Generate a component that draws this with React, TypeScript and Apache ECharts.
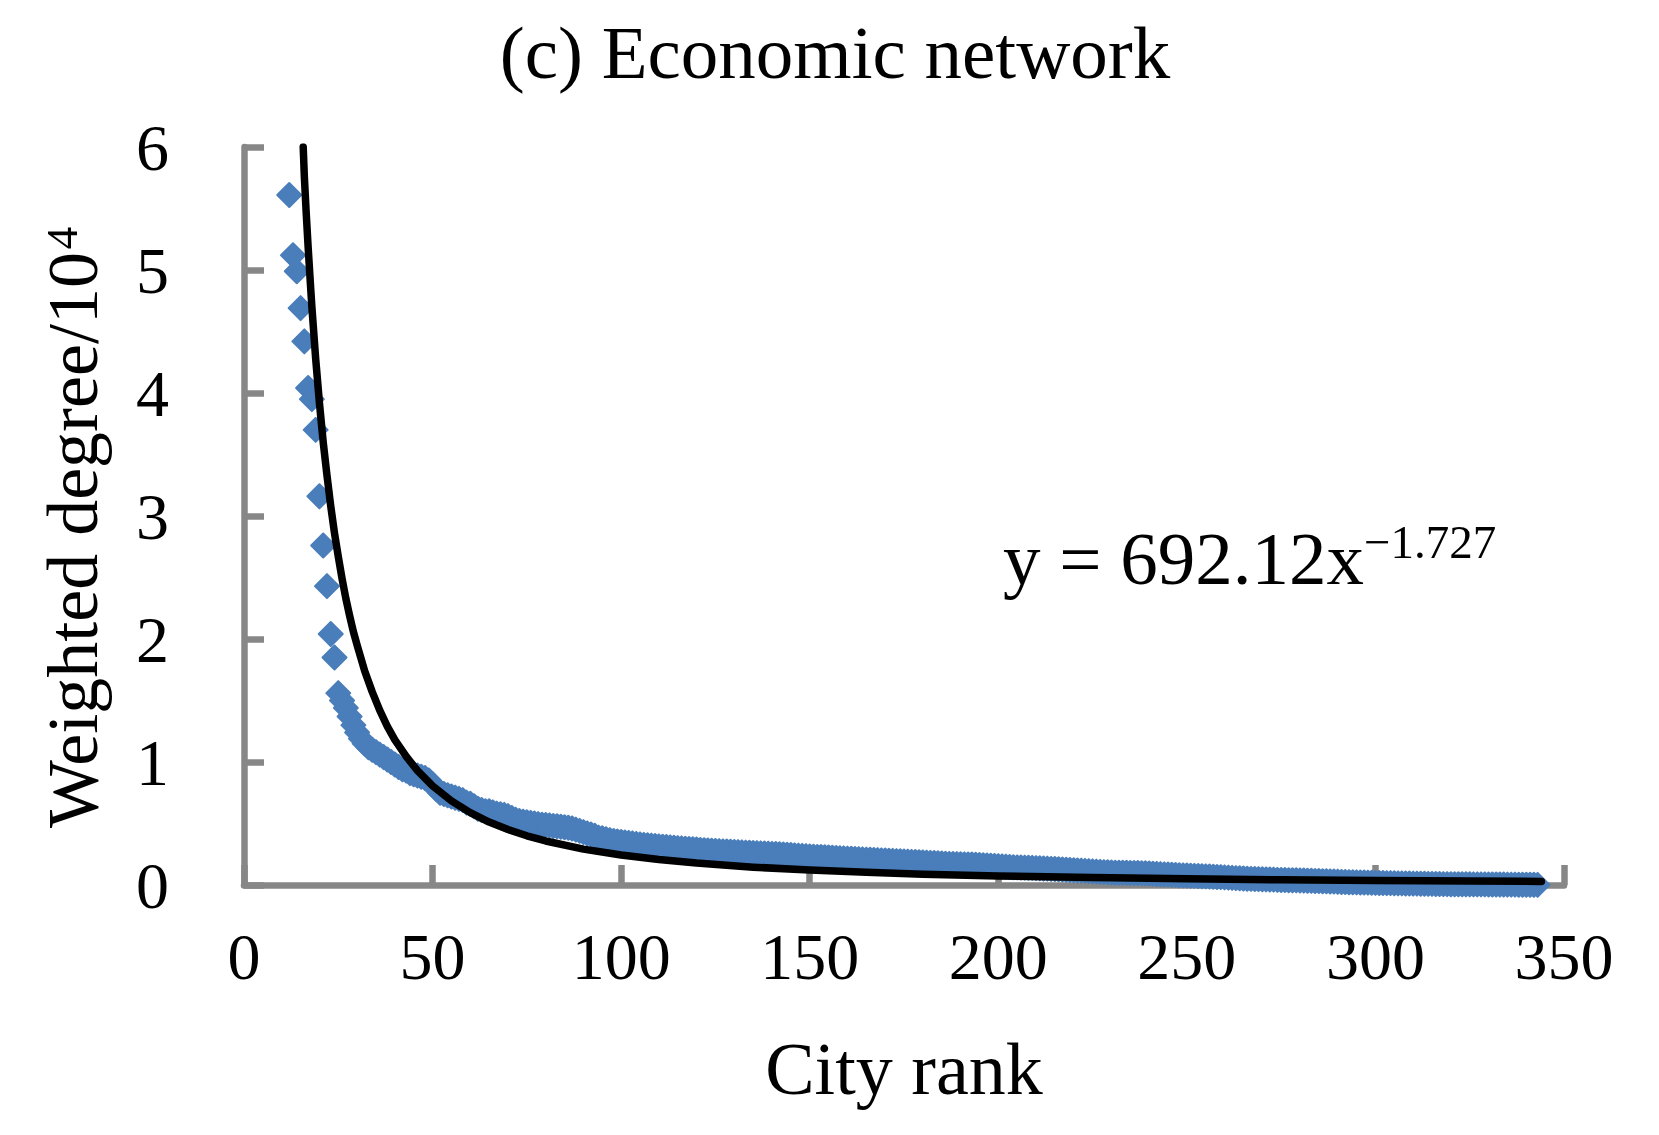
import { useEffect, useRef } from "react";
import * as echarts from "echarts";

// ---- texts ----
const titleText = "(c) Economic network";
const xAxisTitle = "City rank";
const yAxisTitle = "Weighted degree/10";
const yAxisTitleSup = "4";
const equationMain = "y = 692.12x";
const equationSup = "\u22121.727";

// ---- axes ----
const xMin = 0;
const xMax = 350;
const xInterval = 50;
const yMin = 0;
const yMax = 6;
const yInterval = 1;

// ---- scatter: weighted degree (/10^4) by city rank, starting at rank 12 ----
const firstRank = 12;
const weightedDegree = [
  5.61, 5.12, 4.99, 4.69, 4.42, 4.04, 3.95, 3.7, 3.16, 2.76,
  2.43, 2.04, 1.85, 1.56, 1.5, 1.44, 1.37, 1.3, 1.24, 1.19,
  1.15, 1.12, 1.1, 1.08, 1.06, 1.04, 1.02, 1.0, 0.98, 0.96,
  0.94, 0.93, 0.91, 0.9, 0.89, 0.88, 0.87, 0.85, 0.82, 0.78,
  0.75, 0.74, 0.73, 0.72, 0.71, 0.7, 0.69, 0.67, 0.66, 0.64,
  0.62, 0.61, 0.6, 0.6, 0.59, 0.58, 0.575, 0.57, 0.56, 0.545,
  0.53, 0.52, 0.515, 0.51, 0.505, 0.5, 0.495, 0.49, 0.488, 0.485,
  0.48, 0.478, 0.474, 0.47, 0.465, 0.46, 0.45, 0.44, 0.43, 0.42,
  0.41, 0.4, 0.385, 0.38, 0.372, 0.365, 0.358, 0.354, 0.35, 0.346,
  0.342, 0.338, 0.334, 0.33, 0.326, 0.323, 0.32, 0.317, 0.314, 0.311,
  0.309, 0.306, 0.303, 0.3, 0.298, 0.295, 0.293, 0.29, 0.288, 0.285,
  0.283, 0.28, 0.278, 0.276, 0.275, 0.273, 0.272, 0.27, 0.268, 0.267,
  0.265, 0.263, 0.262, 0.26, 0.259, 0.257, 0.256, 0.255, 0.253, 0.252,
  0.25, 0.248, 0.246, 0.244, 0.241, 0.239, 0.237, 0.235, 0.232, 0.23,
  0.228, 0.227, 0.225, 0.223, 0.221, 0.22, 0.218, 0.216, 0.214, 0.213,
  0.211, 0.21, 0.208, 0.206, 0.205, 0.203, 0.202, 0.2, 0.199, 0.197,
  0.196, 0.194, 0.193, 0.191, 0.19, 0.188, 0.187, 0.185, 0.184, 0.182,
  0.18, 0.179, 0.177, 0.175, 0.173, 0.172, 0.171, 0.17, 0.169, 0.168,
  0.167, 0.166, 0.164, 0.163, 0.161, 0.159, 0.157, 0.155, 0.153, 0.151,
  0.149, 0.146, 0.144, 0.143, 0.142, 0.141, 0.14, 0.139, 0.137, 0.136,
  0.134, 0.133, 0.131, 0.13, 0.128, 0.126, 0.124, 0.122, 0.12, 0.118,
  0.117, 0.115, 0.113, 0.111, 0.109, 0.107, 0.105, 0.103, 0.101, 0.1,
  0.1, 0.099, 0.099, 0.098, 0.097, 0.097, 0.096, 0.095, 0.093, 0.091,
  0.09, 0.088, 0.086, 0.085, 0.083, 0.081, 0.079, 0.078, 0.077, 0.075,
  0.074, 0.073, 0.071, 0.07, 0.069, 0.067, 0.065, 0.064, 0.062, 0.06,
  0.058, 0.056, 0.055, 0.053, 0.051, 0.05, 0.049, 0.048, 0.047, 0.046,
  0.045, 0.044, 0.042, 0.041, 0.04, 0.039, 0.038, 0.038, 0.037, 0.036,
  0.035, 0.034, 0.033, 0.032, 0.031, 0.03, 0.029, 0.028, 0.027, 0.025,
  0.024, 0.023, 0.022, 0.021, 0.02, 0.02, 0.019, 0.018, 0.017, 0.016,
  0.016, 0.015, 0.015, 0.014, 0.013, 0.013, 0.012, 0.012, 0.011, 0.011,
  0.01, 0.01, 0.009, 0.009, 0.008, 0.008, 0.007, 0.007, 0.0065, 0.006,
  0.006, 0.006, 0.0058, 0.0055, 0.0053, 0.005, 0.005, 0.0048, 0.0045, 0.0043,
  0.004, 0.0038, 0.0035, 0.0033, 0.003, 0.0028, 0.0025, 0.0022, 0.002, 0.0017,
  0.0014, 0.001,
];

// ---- power-law trend line (y = 692.12x^-1.727) ----
const fitRank = [
  15.7, 16, 16.5, 17, 17.5, 18, 19, 20, 21, 22, 23, 24, 25, 26, 27, 28, 29,
  30, 32, 34, 36, 38, 40, 43, 46, 50, 55, 60, 65, 70, 75, 80, 90, 100, 110,
  120, 135, 150, 165, 180, 200, 225, 250, 275, 300, 325, 344,
];
const fitValue = [
  6.0, 5.76, 5.46, 5.19, 4.94, 4.7, 4.28, 3.92, 3.6, 3.33, 3.08, 2.86, 2.67,
  2.49, 2.33, 2.19, 2.06, 1.95, 1.74, 1.57, 1.42, 1.29, 1.18, 1.045, 0.93,
  0.806, 0.684, 0.588, 0.512, 0.451, 0.4, 0.358, 0.292, 0.244, 0.207, 0.178,
  0.145, 0.121, 0.103, 0.088, 0.074, 0.06, 0.05, 0.042, 0.037, 0.032, 0.029,
];

const SERIF = "'Liberation Serif', 'Times New Roman', serif";
const AXIS_GRAY = "#878787";
const MARKER_BLUE = "#4A7EBB";

export default function App() {
  const ref = useRef<HTMLDivElement>(null);

  useEffect(() => {
    if (!ref.current) return;
    const chart = echarts.init(ref.current, null, { renderer: "svg" });

    const scatterData = weightedDegree.map((v, i) => [firstRank + i, v]);
    const fitData = fitRank.map((r, i) => [r, fitValue[i]]);

    chart.setOption({
      animation: false,
      grid: { left: 244, right: 95, top: 147, bottom: 250, containLabel: false },
      xAxis: {
        type: "value",
        min: xMin,
        max: xMax,
        interval: xInterval,
        axisLine: { show: true, onZero: false, lineStyle: { color: AXIS_GRAY, width: 6.5 } },
        axisTick: { show: true, inside: true, length: 20, lineStyle: { color: AXIS_GRAY, width: 6.5 } },
        splitLine: { show: false },
        axisLabel: { fontFamily: SERIF, fontSize: 66, color: "#000", margin: 38 },
      },
      yAxis: {
        type: "value",
        min: yMin,
        max: yMax,
        interval: yInterval,
        axisLine: { show: true, lineStyle: { color: AXIS_GRAY, width: 6.5 } },
        axisTick: { show: true, inside: true, length: 20, lineStyle: { color: AXIS_GRAY, width: 6.5 } },
        splitLine: { show: false },
        axisLabel: { fontFamily: SERIF, fontSize: 66, color: "#000", margin: 75 },
      },
      graphic: [
        {
          type: "text",
          x: 835,
          y: 52,
          style: { text: titleText, fontFamily: SERIF, fontSize: 75, fill: "#000", align: "center", verticalAlign: "middle" },
        },
        {
          type: "text",
          x: 904,
          y: 1069,
          style: { text: xAxisTitle, fontFamily: SERIF, fontSize: 74, fill: "#000", align: "center", verticalAlign: "middle" },
        },
        {
          type: "text",
          x: 73,
          y: 540,
          rotation: Math.PI / 2,
          style: { text: yAxisTitle, fontFamily: SERIF, fontSize: 72, fill: "#000", align: "center", verticalAlign: "middle" },
        },
        {
          type: "text",
          x: 62,
          y: 238,
          rotation: Math.PI / 2,
          style: { text: yAxisTitleSup, fontFamily: SERIF, fontSize: 45, fill: "#000", align: "center", verticalAlign: "middle" },
        },
        {
          type: "text",
          x: 1003,
          y: 558,
          style: { text: equationMain, fontFamily: SERIF, fontSize: 75, fill: "#000", align: "left", verticalAlign: "middle" },
        },
        {
          type: "text",
          x: 1364,
          y: 542,
          style: { text: equationSup, fontFamily: SERIF, fontSize: 47, fill: "#000", align: "left", verticalAlign: "middle" },
        },
      ],
      series: [
        {
          type: "scatter",
          data: scatterData,
          symbol: "diamond",
          symbolSize: 24,
          itemStyle: { color: MARKER_BLUE, borderColor: MARKER_BLUE, borderWidth: 2, borderJoin: "round", opacity: 1 },
          z: 2,
        },
        {
          type: "line",
          data: fitData,
          smooth: false,
          showSymbol: false,
          symbol: "none",
          lineStyle: { color: "#000", width: 7.5, join: "round", cap: "round" },
          z: 3,
        },
      ],
    });

    return () => chart.dispose();
  }, []);

  return <div ref={ref} style={{ position: "fixed", left: 0, top: 0, width: 1659, height: 1135 }} />;
}
